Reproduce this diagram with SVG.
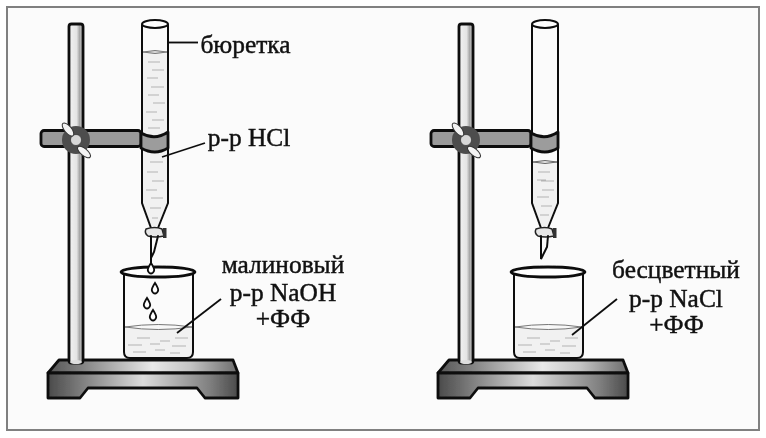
<svg xmlns="http://www.w3.org/2000/svg" width="766" height="438" viewBox="0 0 766 438">
<style>
.t{font-family:"Liberation Serif","Times New Roman",serif;font-size:25.4px;fill:#111;text-anchor:middle;stroke:#111;stroke-width:.45}
.o{stroke:#111;stroke-width:2.8;stroke-linejoin:round;stroke-linecap:round}
.thin{stroke:#111;stroke-width:2;fill:none;stroke-linecap:round}
.lead{stroke:#111;stroke-width:1.8;fill:none}
.liq{fill:#f1f1f1;stroke:none}
.dash{stroke:#b4b4b4;stroke-width:1.1;fill:none}
.drop{fill:#fff;stroke:#111;stroke-width:1.9}
</style>
<defs>
<filter id="soft" x="-5%" y="-5%" width="110%" height="110%"><feGaussianBlur stdDeviation="0.45"/></filter>
<linearGradient id="rod" x1="0" x2="1" y1="0" y2="0"><stop offset="0" stop-color="#f2f2f2"/><stop offset=".55" stop-color="#e4e4e4"/><stop offset=".75" stop-color="#a8a8a8"/><stop offset="1" stop-color="#d0d0d0"/></linearGradient>
<linearGradient id="baseTop" x1="0" x2="1" y1="0" y2="0"><stop offset="0" stop-color="#555"/><stop offset=".2" stop-color="#888"/><stop offset=".55" stop-color="#e8e8e8"/><stop offset=".75" stop-color="#c4c4c4"/><stop offset="1" stop-color="#6c6c6c"/></linearGradient>
<linearGradient id="baseFront" x1="0" x2="1" y1="0" y2="0"><stop offset="0" stop-color="#4a4a4a"/><stop offset=".13" stop-color="#707070"/><stop offset=".5" stop-color="#dcdcdc"/><stop offset=".85" stop-color="#808080"/><stop offset="1" stop-color="#4a4a4a"/></linearGradient>
<g id="stand">
<path class="o" d="M59 360H233L238 373H48Z" fill="url(#baseTop)"/>
<path class="o" d="M48 373H238V398H205L197 388H88L80 398H48Z" fill="url(#baseFront)"/>
<rect class="o" x="69" y="24" width="14" height="339" rx="2.5" fill="url(#rod)"/>
<ellipse cx="76" cy="362" rx="6" ry="2" fill="#ddd"/>
<rect class="o" x="41" y="130.500" width="100" height="16" rx="3" fill="#9a9a9a"/>
<circle cx="76" cy="140" r="14" fill="#4e4e4e"/>
<circle cx="76" cy="140" r="5.500" fill="#d8d8d8" stroke="#222" stroke-width=".6"/>
<ellipse cx="68" cy="129.500" rx="8" ry="3.500" fill="#f4f4f4" stroke="#333" transform="rotate(50 68 129.500)"/>
<ellipse cx="84" cy="152" rx="8" ry="3.500" fill="#f4f4f4" stroke="#333" transform="rotate(40 84 152)"/>
</g>
<g id="tube">
<path class="thin" d="M142 25V203L151 228M168 25V203L158 228"/>
<ellipse cx="155" cy="24" rx="13" ry="4" fill="#fff" stroke="#111" stroke-width="2"/>
<path class="o" d="M141 133Q155 141 168 132V148Q155 156 141 148Z" fill="#9c9c9c"/>
<path d="M146 229Q155 226 162 229L164 236Q155 238 148 236Q144 233 146 229Z" fill="#e6e6e6" stroke="#222" stroke-width="1.500"/>
<rect x="163" y="228" width="3.500" height="10" fill="#333"/>
</g>
<g id="beaker">
<path class="thin" d="M124 273V352Q124 358 130 358H187Q193 358 193 352V273" stroke-width="2"/>
<ellipse cx="158" cy="272" rx="37" ry="5" fill="#fff" stroke="#111" stroke-width="2.800"/>
</g>
<g id="beakerLiquid">
<path class="liq" d="M125 327Q158 322 192 327V352Q192 357 187 357H130Q125 357 125 352Z"/>
<path d="M125 327Q158 322 192 327Q158 332 125 327Z" fill="#f8f8f8" stroke="#777"/>
<path class="dash" d="M137 338H150M160 341H170M175 338H188M128 345H142M150 344H160M172 346H186M133 352H146M155 350H165M170 353H180"/>
</g>
<path id="drop" d="M0 -5Q4 1 3 3Q2 5.500 0 5.500Q-2 5.500 -3 3Q-4 1 0 -5Z"/>
</defs>
<rect width="766" height="438" fill="#fff"/>
<rect x="7" y="7" width="752" height="423" fill="#fbfbfb" stroke="#808080" stroke-width="2"/>
<g filter="url(#soft)">
<g id="stand-left"><use href="#stand"/></g>
<g id="stand-right"><use href="#stand" x="390"/></g>
<g id="burette-left">
<path class="liq" d="M143 52H167V203L158 226H151L143 203Z"/>
<path d="M143 52Q155 49 167 52Q155 55 143 52Z" fill="#dcdcdc" stroke="#777"/>
<path class="dash" d="M148 62H160M152 70H164M147 78H158M151 87H164M148 95H159M153 103H165M146 112H157M152 120H164M148 128H160M150 162H163M147 172H158M152 181H164M146 190H157M151 198H163M150 208H161M152 218H158"/>
<use href="#tube"/>
<path class="thin" d="M151 236V258L154 252L158 236"/>
<path class="thin" d="M151 258V263"/>
</g>
<g id="burette-right">
<path class="liq" d="M533 162H557V203L548 226H541L533 203Z"/>
<path d="M533 162Q545 159 557 162Q545 165 533 162Z" fill="#e4e4e4" stroke="#666"/>
<path class="dash" d="M538 172H550M541 181H554M537 180H546M542 190H554M537 197H549M541 206H552M540 215H549"/>
<use href="#tube" x="390"/>
<path class="thin" d="M541 236V259L547 247L548 236"/>
</g>
<g id="beaker-left"><use href="#beakerLiquid"/><use href="#beaker"/></g>
<g id="beaker-right"><use href="#beakerLiquid" x="390"/><use href="#beaker" x="390"/></g>
<g id="drops">
<use href="#drop" x="151" y="268" class="drop"/>
<use href="#drop" x="155" y="288" class="drop"/>
<use href="#drop" x="147" y="303" class="drop"/>
<use href="#drop" x="153" y="315" class="drop"/>
</g>
<g id="connectors">
<path class="lead" d="M168 42.500H198"/>
<path class="lead" d="M162 157L205 143"/>
<path class="lead" d="M177 333L221 299"/>
<path class="lead" d="M572 335L617 299"/>
</g>
</g>
<g id="labels">
<text class="t" x="245.500" y="53">бюретка</text>
<text class="t" x="249" y="146">р-р HCl</text>
<text class="t" x="283" y="273">малиновый</text>
<text class="t" x="283" y="301">р-р NaOH</text>
<text class="t" x="283" y="327">+ФФ</text>
<text class="t" x="676" y="278">бесцветный</text>
<text class="t" x="676" y="307">р-р NaCl</text>
<text class="t" x="676.500" y="333">+ФФ</text>
</g>
</svg>
